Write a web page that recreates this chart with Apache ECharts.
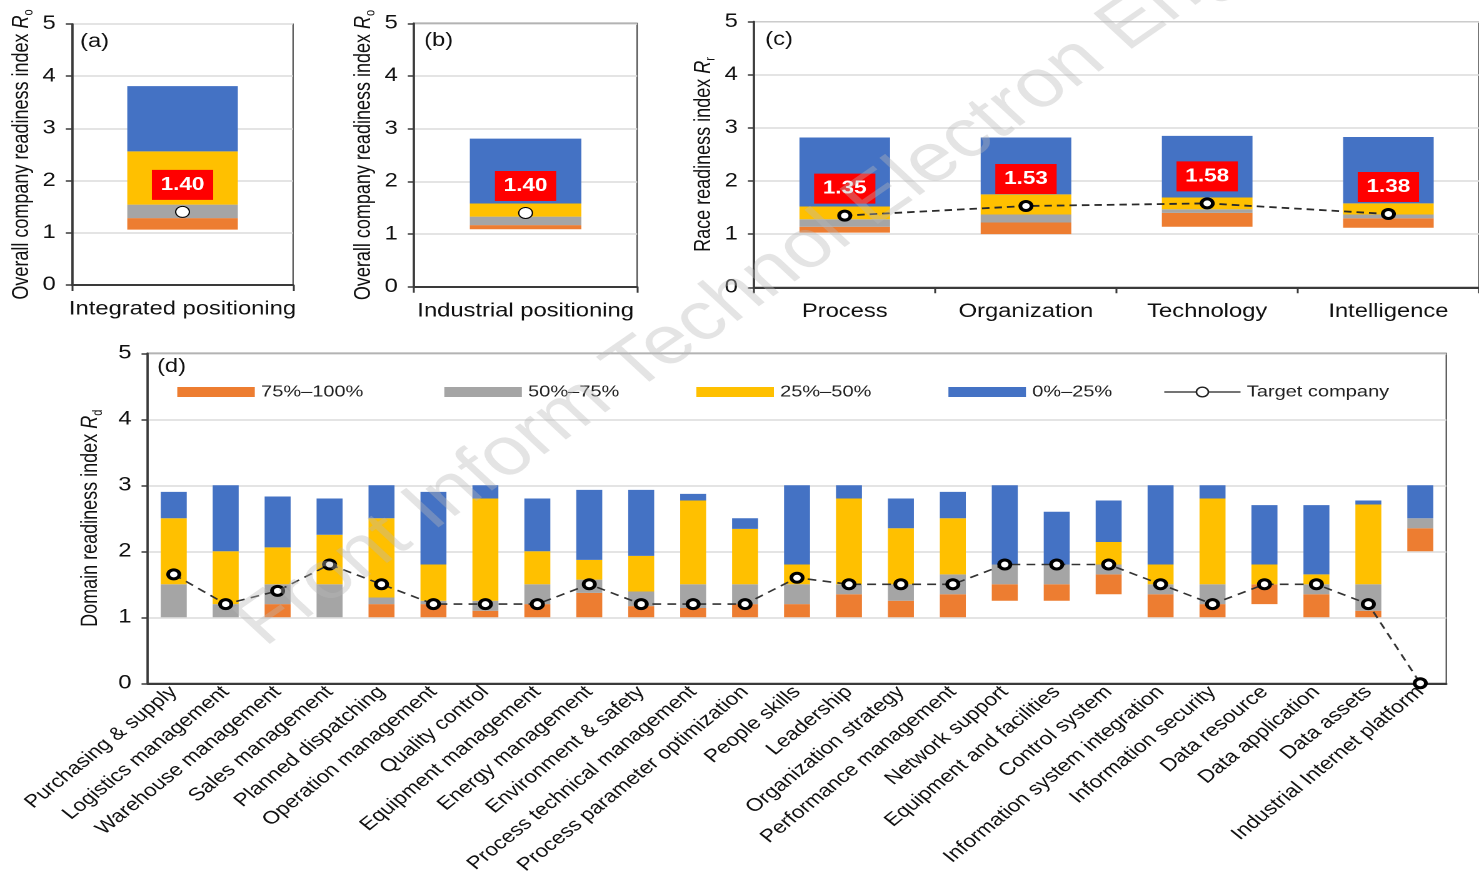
<!DOCTYPE html>
<html>
<head>
<meta charset="utf-8">
<script src="https://cdn.jsdelivr.net/npm/echarts@6/dist/echarts.min.js"></script>
<style>
  html, body { margin: 0; padding: 0; background: #fff; overflow: hidden; }
  #wrap { width: 1479px; height: 878px; overflow: hidden; }
  /* the figure is laid out on a narrower canvas and widened horizontally */
  #chart { width: 1183px; height: 878px; transform: scaleX(1.25021); transform-origin: 0 0; }
</style>
</head>
<body>
<div id="wrap"><div id="chart"></div></div>
<script>
// ---- data: each bar is [bottom, top of 75–100%, top of 50–75%, top of 25–50%, top of 0–25%] ----
const panelACategories = ['Integrated positioning'];
const panelABounds = [[1.06, 1.28, 1.54, 2.56, 3.81]];
const panelATarget = [1.40];

const panelBCategories = ['Industrial positioning'];
const panelBBounds = [[1.09, 1.17, 1.33, 1.58, 2.81]];
const panelBTarget = [1.40];

const panelCCategories = ['Process', 'Organization', 'Technology', 'Intelligence'];
const panelCBounds = [
  [1.03, 1.14, 1.28, 1.52, 2.82],
  [1.00, 1.22, 1.37, 1.75, 2.82],
  [1.14, 1.40, 1.47, 1.69, 2.85],
  [1.12, 1.30, 1.37, 1.58, 2.83]
];
const panelCTarget = [1.35, 1.53, 1.58, 1.38];

const panelDCategories = [
  'Purchasing & supply', 'Logistics management', 'Warehouse management', 'Sales management',
  'Planned dispatching', 'Operation management', 'Quality control', 'Equipment management',
  'Energy management', 'Environment & safety', 'Process technical management',
  'Process parameter optimization', 'People skills', 'Leadership', 'Organization strategy',
  'Performance management', 'Network support', 'Equipment and facilities', 'Control system',
  'Information system integration', 'Information security', 'Data resource', 'Data application',
  'Data assets', 'Industrial Internet platform'
];
const panelDBounds = [
  [1.00, 1.00, 1.50, 2.50, 2.90],
  [1.00, 1.00, 1.20, 2.00, 3.00],
  [1.00, 1.20, 1.50, 2.06, 2.83],
  [1.00, 1.00, 1.50, 2.25, 2.80],
  [1.00, 1.20, 1.30, 2.50, 3.00],
  [1.00, 1.20, 1.25, 1.80, 2.90],
  [1.00, 1.10, 1.25, 2.80, 3.00],
  [1.00, 1.20, 1.50, 2.00, 2.80],
  [1.00, 1.37, 1.57, 1.87, 2.93],
  [1.00, 1.17, 1.39, 1.93, 2.93],
  [1.00, 1.14, 1.50, 2.77, 2.87],
  [1.00, 1.20, 1.50, 2.34, 2.50],
  [1.00, 1.20, 1.50, 1.80, 3.00],
  [1.00, 1.35, 1.50, 2.80, 3.00],
  [1.00, 1.25, 1.50, 2.35, 2.80],
  [1.00, 1.35, 1.65, 2.50, 2.90],
  [1.25, 1.50, 1.80, 1.80, 3.00],
  [1.25, 1.50, 1.80, 1.80, 2.60],
  [1.35, 1.65, 1.80, 2.14, 2.77],
  [1.00, 1.35, 1.50, 1.80, 3.00],
  [1.00, 1.20, 1.50, 2.80, 3.00],
  [1.20, 1.50, 1.50, 1.80, 2.70],
  [1.00, 1.35, 1.50, 1.65, 2.70],
  [1.00, 1.10, 1.50, 2.71, 2.77],
  [2.00, 2.35, 2.50, 2.50, 3.00]
];
const panelDTarget = [1.65, 1.2, 1.4, 1.8, 1.5, 1.2, 1.2, 1.2, 1.5, 1.2, 1.2, 1.2, 1.6, 1.5, 1.5, 1.5, 1.8, 1.8, 1.8, 1.5, 1.2, 1.5, 1.5, 1.2, 0];

const yTicks = [0, 1, 2, 3, 4, 5];

// ---- styling ----
const FONT = '"Liberation Sans", Arial, sans-serif';
const BAND_NAMES = ['75%–100%', '50%–75%', '25%–50%', '0%–25%'];
const BAND_COLORS = ['#ED7D31', '#A5A5A5', '#FFC000', '#4472C4'];
const TARGET_NAME = 'Target company';
const AXIS_COLOR = '#3a3a3a';
const TEXT_COLOR = '#111';

const panels = [
  { cats: panelACategories, bounds: panelABounds, target: panelATarget,
    grid: { left: 57.6, top: 24, width: 176.8, height: 261 },
    yName: ['Overall company readiness index ', 'R', 'o'], style: 'single' },
  { cats: panelBCategories, bounds: panelBBounds, target: panelBTarget,
    grid: { left: 331.2, top: 23.3, width: 178.4, height: 263.4 },
    yName: ['Overall company readiness index ', 'R', 'o'], style: 'single' },
  { cats: panelCCategories, bounds: panelCBounds, target: panelCTarget,
    grid: { left: 603.2, top: 21.7, width: 585.6, height: 265.6 },
    yName: ['Race readiness index ', 'R', 'r'], style: 'labelled' },
  { cats: panelDCategories, bounds: panelDBounds, target: panelDTarget,
    grid: { left: 118.2, top: 353.3, width: 1038.6, height: 330 },
    yName: ['Domain readiness index ', 'R', 'd'], style: 'domain' }
];

const grids = [], xAxes = [], yAxes = [], series = [];

const redLabel = {
  show: true, position: 'top', distance: 6,
  formatter: p => Number(p.value).toFixed(2),
  backgroundColor: '#FF0000', color: '#fff', fontWeight: 'bold',
  fontSize: 18, lineHeight: 20, padding: [5, 7], fontFamily: FONT
};

panels.forEach((p, gi) => {
  grids.push(Object.assign({ show: true, borderColor: AXIS_COLOR, borderWidth: 1, backgroundColor: 'transparent', containLabel: false }, p.grid));

  const isDomain = p.style === 'domain';
  xAxes.push({
    type: 'category', gridIndex: gi, data: p.cats, boundaryGap: true,
    axisLine: { show: true, lineStyle: { color: AXIS_COLOR, width: 2 } },
    axisTick: { show: !isDomain, length: 6, alignWithLabel: false, lineStyle: { color: AXIS_COLOR, width: 1.5 } },
    axisLabel: isDomain
      ? { interval: 0, rotate: 45, fontSize: 18, margin: 6, color: TEXT_COLOR, fontFamily: FONT }
      : { interval: 0, fontSize: 19, margin: 15, color: TEXT_COLOR, fontFamily: FONT },
    splitLine: { show: false }
  });

  yAxes.push({
    type: 'value', gridIndex: gi, min: yTicks[0], max: yTicks[yTicks.length - 1], interval: 1,
    name: '{t|' + p.yName[0] + '}{r|' + p.yName[1] + '}{s|' + p.yName[2] + '}',
    nameLocation: 'middle', nameRotate: 90, nameGap: isDomain ? 27 : 29,
    nameTextStyle: {
      rich: {
        t: { fontSize: 18, lineHeight: 22, fontFamily: FONT, color: TEXT_COLOR },
        r: { fontSize: 18, lineHeight: 22, fontStyle: 'italic', fontFamily: FONT, color: TEXT_COLOR },
        s: { fontSize: 11, verticalAlign: 'bottom', fontFamily: FONT, color: TEXT_COLOR }
      }
    },
    axisLine: { show: true, lineStyle: { color: AXIS_COLOR, width: 1.8 } },
    axisTick: { show: true, length: 5, lineStyle: { color: AXIS_COLOR, width: 1.5 } },
    axisLabel: { fontSize: 19, color: TEXT_COLOR, margin: 13, fontFamily: FONT },
    splitLine: { show: true, lineStyle: { color: '#DCDCDC', width: 1.5 } }
  });

  const stackId = 'stack' + gi;
  // invisible base that lifts each bar to its lower bound
  series.push({
    type: 'bar', name: 'base' + gi, xAxisIndex: gi, yAxisIndex: gi, stack: stackId,
    barWidth: '50%', silent: true, itemStyle: { color: 'transparent' },
    data: p.bounds.map(b => b[0])
  });
  BAND_NAMES.forEach((band, k) => {
    series.push({
      type: 'bar', name: band, xAxisIndex: gi, yAxisIndex: gi, stack: stackId,
      barWidth: '50%', itemStyle: { color: BAND_COLORS[k] },
      data: p.bounds.map(b => +(b[k + 1] - b[k]).toFixed(3))
    });
  });

  const targetSeries = {
    type: 'line', name: TARGET_NAME, xAxisIndex: gi, yAxisIndex: gi,
    data: p.target, symbol: 'circle', clip: false, z: 5,
    lineStyle: { color: '#2a2a2a', width: 1.8, type: [6, 4] },
    itemStyle: { color: '#fff', borderColor: '#000', borderWidth: 3 },
    symbolSize: 9
  };
  if (p.style === 'single') {
    targetSeries.symbolSize = 11;
    targetSeries.itemStyle = { color: '#fff', borderColor: '#000', borderWidth: 1 };
    targetSeries.label = redLabel;
  } else if (p.style === 'labelled') {
    targetSeries.label = redLabel;
  } else {
    targetSeries.lineStyle = { color: '#333', width: 1.6, type: [7, 5] };
  }
  series.push(targetSeries);
});

// legend inside panel (d): one entry per component to hold the spacing
const legendLefts = [136.8, 350.4, 552, 753.6, 925.6];
const legends = BAND_NAMES.map((nm, i) => ({
  data: [{ name: nm, icon: 'rect' }],
  left: legendLefts[i], top: 379, orient: 'horizontal',
  itemWidth: 62, itemHeight: 10, itemGap: 0,
  textStyle: { fontSize: 16, color: '#222', fontFamily: FONT },
  selectedMode: false
}));
legends.push({
  data: [{ name: TARGET_NAME }],
  left: legendLefts[4], top: 379, orient: 'horizontal',
  itemWidth: 61, itemHeight: 12, itemGap: 0,
  textStyle: { fontSize: 16, color: '#222', fontFamily: FONT },
  lineStyle: { type: 'solid', color: '#222', width: 1.3 },
  itemStyle: { color: '#fff', borderColor: '#222', borderWidth: 1.3 },
  selectedMode: false
});

const panelLetters = [
  { t: '(a)', x: 64, y: 42 },
  { t: '(b)', x: 339.2, y: 41 },
  { t: '(c)', x: 612, y: 40 },
  { t: '(d)', x: 125.6, y: 367 }
];

const graphic = panelLetters.map(l => ({
  type: 'text', x: l.x, y: l.y, z: 10,
  style: { text: l.t, fontSize: 19, fontFamily: FONT, fill: TEXT_COLOR, verticalAlign: 'middle' }
}));
// journal watermark across the figure
graphic.push({
  type: 'text', x: 612, y: 322, rotation: 40.8 * Math.PI / 180, z: 100, silent: true,
  style: {
    text: 'Front Inform Technol Electron Eng', fontSize: 68, fontFamily: FONT,
    fill: 'rgba(185,185,185,0.38)', align: 'center', verticalAlign: 'bottom'
  }
});

const chart = echarts.init(document.getElementById('chart'), null, { renderer: 'canvas', devicePixelRatio: 2 });
chart.setOption({
  animation: false,
  backgroundColor: '#fff',
  textStyle: { fontFamily: FONT },
  grid: grids, xAxis: xAxes, yAxis: yAxes,
  legend: legends,
  series: series,
  graphic: graphic
});
</script>
</body>
</html>
